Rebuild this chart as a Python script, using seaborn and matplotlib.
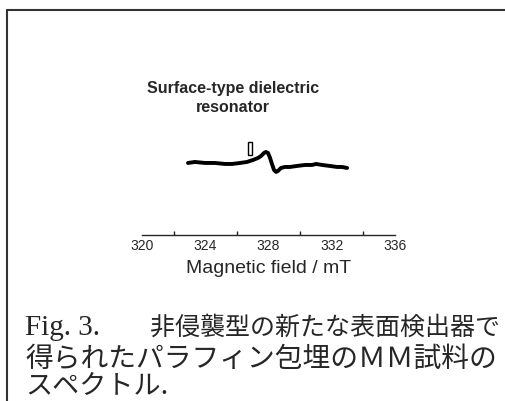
import pandas as pd
import seaborn as sns
import matplotlib.pyplot as plt
from matplotlib.lines import Line2D
from matplotlib.patches import Rectangle

sns.set_style("white")
plt.rcParams['font.family'] = ['Liberation Sans', 'Noto Sans CJK JP', 'DejaVu Sans']

# spectrum (field in mT, signal in arbitrary units)
field = [322.91, 323.35, 323.98, 324.62, 325.25, 325.69, 326.20, 326.64,
         327.02, 327.34, 327.53, 327.72, 327.84, 327.97, 328.10, 328.22,
         328.35, 328.48, 328.60, 328.79, 329.04, 329.36, 329.80, 330.31,
         330.75, 331.01, 331.39, 331.89, 332.33, 332.65, 332.97]
signal = [-1, 0, -1, -1, -2, -2, -1, 0,
          2, 4, 6, 9, 10, 9, 4, -2,
          -8, -10, -9, -6, -5, -5, -4, -3,
          -3, -2, -3, -4, -5, -5, -6]

# small reference marker above the spectrum
marker_field = 326.83
marker_low, marker_high = 7, 20

major_ticks = [320, 324, 328, 332, 336]
minor_ticks = [322, 326, 330, 334]

title = "Surface-type dielectric\nresonator"
xlabel = "Magnetic field / mT"
caption_head = "Fig. 3."
caption = ["非侵襲型の新たな表面検出器で",
           "得られたパラフィン包埋のＭＭ試料の",
           "スペクトル."]

df = pd.DataFrame({"field": field, "signal": signal})

fig = plt.figure(figsize=(5.06, 4.02), dpi=100)
ax = fig.add_axes([0.2806, 0.413, 0.5, 0.2886])

sns.lineplot(data=df, x="field", y="signal", color="black", linewidth=2.8, ax=ax)
ax.add_patch(Rectangle((marker_field - 0.13, marker_low), 0.26, marker_high - marker_low,
                       fill=False, edgecolor="black", linewidth=1.0))

ax.set_xlim(320, 336)
ax.set_ylim(-73, 43)
ax.set_xticks(major_ticks)
ax.set_xticks(minor_ticks, minor=True)
ax.set_yticks([])
ax.tick_params(axis="x", which="major", direction="in", length=8, width=1,
               labelsize=10, pad=2)
ax.tick_params(axis="x", which="minor", direction="in", length=3, width=1, bottom=True)
for side in ["top", "right", "left"]:
    ax.spines[side].set_visible(False)
ax.spines["bottom"].set_linewidth(1)
ax.set_xlabel(xlabel, fontsize=14, labelpad=5)
ax.set_ylabel("")
ax.set_facecolor("none")

fig.text(233 / 506, 1 - 98 / 402, title, fontsize=11.5, fontweight="bold",
         ha="center", va="center", linespacing=1.25)

# frame lines of the page
fig.add_artist(Line2D([7 / 506, 1], [1 - 11 / 402, 1 - 11 / 402], color="#333333", linewidth=1.5))
fig.add_artist(Line2D([7 / 506, 7 / 506], [0, 1 - 11 / 402], color="#333333", linewidth=1.5))

# caption
fig.text(25 / 506, 1 - 335 / 402, caption_head, fontsize=21,
         family=['Liberation Serif', 'DejaVu Serif'], va="baseline")
fig.text(500 / 506, 1 - 335 / 402, caption[0], fontsize=18,
         family=['Noto Sans CJK JP', 'DejaVu Sans'], va="baseline", ha="right")
fig.text(25 / 506, 1 - 367 / 402, caption[1], fontsize=20,
         family=['Noto Sans CJK JP', 'DejaVu Sans'], va="baseline")
fig.text(25 / 506, 1 - 394 / 402, caption[2], fontsize=19.5,
         family=['Noto Sans CJK JP', 'DejaVu Sans'], va="baseline")

plt.savefig("out.png", dpi=100)
